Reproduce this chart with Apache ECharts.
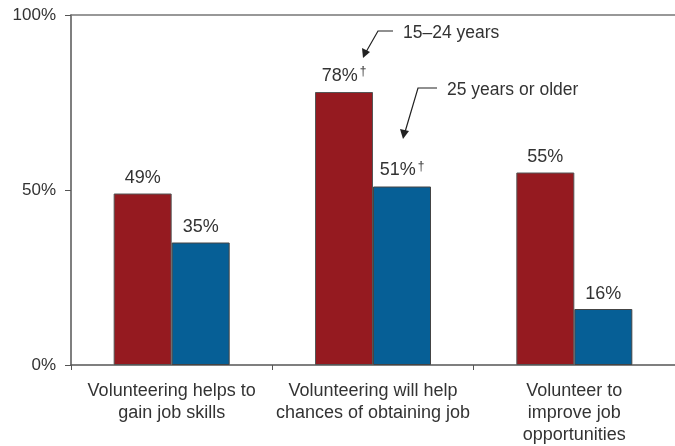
<!DOCTYPE html>
<html>
<head>
<meta charset="utf-8">
<script src="https://cdn.jsdelivr.net/npm/echarts@6/dist/echarts.min.js"></script>
<style>html,body{margin:0;padding:0;background:#fff}#c{width:675px;height:446px}</style>
</head>
<body>
<div id="c"></div>
<script>
var categories = ["Volunteering helps to\ngain job skills", "Volunteering will help\nchances of obtaining job", "Volunteer to\nimprove job\nopportunities"];
var youngValues = [49, 78, 55];
var olderValues = [35, 51, 16];
var youngDagger = [false, true, false];
var olderDagger = [false, true, false];
var yTicks = [0, 50, 100];

var chart = echarts.init(document.getElementById('c'));
var font = 'Liberation Sans, Arial, sans-serif';
function labelFmt(flags) {
  return function (p) {
    return flags[p.dataIndex] ? '{a|' + p.value + '%}{s|†}' : '{a|' + p.value + '%}';
  };
}
var rich = {
  a: { fontSize: 18, color: '#333', fontFamily: font },
  s: { fontSize: 12, color: '#333', fontFamily: font, verticalAlign: 'top', padding: [0, 0, 8, 2] }
};
chart.setOption({
  animation: false,
  textStyle: { fontFamily: font },
  grid: { left: 71, top: 15, width: 612, height: 354 },
  xAxis: [{
    type: 'category',
    data: categories,
    axisLine: { lineStyle: { color: '#555', width: 1.5 } },
    axisTick: { show: true, length: 5, lineStyle: { color: '#555' } },
    axisLabel: { color: '#333', fontSize: 18, lineHeight: 22, margin: 15, fontFamily: font, interval: 0 }
  }, {
    type: 'category',
    position: 'top',
    data: categories,
    axisLine: { show: true, lineStyle: { color: '#777', width: 1.5 } },
    axisTick: { show: false },
    axisLabel: { show: false }
  }],
  yAxis: {
    type: 'value', min: 0, max: 100, interval: 50,
    axisLine: { show: true, lineStyle: { color: '#555', width: 1.5 } },
    axisTick: { show: true, length: 6, lineStyle: { color: '#555' } },
    splitLine: { show: false },
    axisLabel: { color: '#333', fontSize: 17, margin: 15, fontFamily: font, formatter: function (v) { return yTicks.indexOf(v) >= 0 ? v + '%' : ''; } }
  },
  series: [{
    name: '15–24 years', type: 'bar', data: youngValues, barWidth: 58, barGap: '0%',
    itemStyle: { color: '#951a20', borderColor: '#555', borderWidth: 1 },
    label: { show: true, position: 'top', distance: 6, formatter: labelFmt(youngDagger), rich: rich }
  }, {
    name: '25 years or older', type: 'bar', data: olderValues, barWidth: 58,
    itemStyle: { color: '#065f96', borderColor: '#444', borderWidth: 1 },
    label: { show: true, position: 'top', distance: 6, formatter: labelFmt(olderDagger), rich: rich }
  }],
  graphic: [
    { type: 'polyline', shape: { points: [[393, 31], [378, 31], [366, 52]] }, style: { stroke: '#222', lineWidth: 1.2, fill: null } },
    { type: 'polygon', shape: { points: [[363, 58], [362, 48], [370, 52]] }, style: { fill: '#222' } },
    { type: 'text', left: 403, top: 24, style: { text: '15–24 years', fontSize: 17.5, fill: '#333', fontFamily: font } },
    { type: 'polyline', shape: { points: [[437, 88], [418, 88], [405, 132]] }, style: { stroke: '#222', lineWidth: 1.2, fill: null } },
    { type: 'polygon', shape: { points: [[403, 139], [400, 129], [409, 131]] }, style: { fill: '#222' } },
    { type: 'text', left: 447, top: 81, style: { text: '25 years or older', fontSize: 17.5, fill: '#333', fontFamily: font } }
  ]
});
</script>
</body>
</html>
